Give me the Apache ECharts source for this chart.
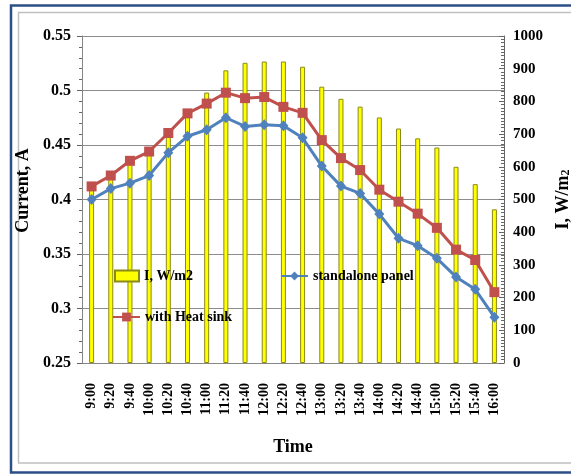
<!DOCTYPE html>
<html>
<head>
<meta charset="utf-8">
<script src="https://cdn.jsdelivr.net/npm/echarts@6/dist/echarts.min.js"></script>
<style>html,body{margin:0;padding:0;background:#fff;}#c{width:571px;height:474px;}</style>
</head>
<body>
<div id="c"></div>
<script>
var categories = ['9:00','9:20','9:40','10:00','10:20','10:40','11:00','11:20','11:40','12:00','12:20','12:40','13:00','13:20','13:40','14:00','14:20','14:40','15:00','15:20','15:40','16:00'];
var irradiance = [530, 565, 610, 640, 695, 760, 827, 895, 918, 922, 922, 906, 845, 808, 784, 751, 717, 687, 659, 600, 547, 470];
var standalone = [0.400, 0.410, 0.415, 0.422, 0.443, 0.458, 0.464, 0.475, 0.467, 0.4685, 0.4676, 0.4566, 0.4307, 0.4123, 0.4056, 0.3866, 0.3644, 0.3576, 0.346, 0.329, 0.3176, 0.292];
var heatSink = [0.412, 0.422, 0.4355, 0.444, 0.461, 0.479, 0.488, 0.498, 0.493, 0.494, 0.485, 0.4795, 0.4545, 0.438, 0.427, 0.409, 0.398, 0.387, 0.374, 0.354, 0.3445, 0.315];
var leftTicks = {min: 0.25, max: 0.55, interval: 0.05};
var rightTicks = {min: 0, max: 1000, interval: 100};

var FONT = "'Liberation Serif', 'Times New Roman', serif";
var chart = echarts.init(document.getElementById('c'), null, {renderer: 'canvas'});
chart.setOption({
  animation: false,
  backgroundColor: '#fff',
  graphic: [
    {type: 'rect', shape: {x: 18.5, y: 12.5, width: 560, height: 450.5}, style: {fill: 'none', stroke: '#C0C0C0', lineWidth: 1.5}, z: 0},
    {type: 'rect', shape: {x: 11, y: 5.5, width: 580, height: 467}, style: {fill: 'none', stroke: '#2B4F86', lineWidth: 2.5}, z: 0}
  ],
  grid: {left: 82, right: 67, top: 36, bottom: 111, containLabel: false, outerBoundsMode: 'none'},
  legend: [
    {data: [{name: 'I, W/m2', icon: 'rect'}], left: 114, top: 269, padding: 0, itemWidth: 24, itemHeight: 11, textStyle: {fontFamily: FONT, fontWeight: 'bold', fontSize: 14, color: '#000'}},
    {data: ['standalone panel'], left: 280, top: 269, padding: 0, itemWidth: 27, itemHeight: 11, textStyle: {fontFamily: FONT, fontWeight: 'bold', fontSize: 14, color: '#000'}},
    {data: ['with Heat sink'], left: 112, top: 310, padding: 0, itemWidth: 27, itemHeight: 11, textStyle: {fontFamily: FONT, fontWeight: 'bold', fontSize: 14, color: '#000'}}
  ],
  xAxis: {
    type: 'category',
    data: categories,
    boundaryGap: true,
    axisLine: {lineStyle: {color: '#868686', width: 1}},
    axisTick: {show: false},
    axisLabel: {rotate: 90, interval: 0, margin: 20, fontFamily: FONT, fontWeight: 'bold', fontSize: 14, color: '#000'},
    name: 'Time',
    nameLocation: 'middle',
    nameGap: 75,
    nameTextStyle: {fontFamily: FONT, fontWeight: 'bold', fontSize: 18, color: '#000'}
  },
  yAxis: [
    {
      type: 'value',
      min: leftTicks.min, max: leftTicks.max, interval: leftTicks.interval,
      axisLine: {show: true, lineStyle: {color: '#868686'}},
      axisTick: {show: true, length: 5, lineStyle: {color: '#666'}},
      minorTick: {show: true, splitNumber: 5, length: 3, lineStyle: {color: '#666'}},
      splitLine: {show: true, lineStyle: {color: '#8C8C8C', width: 1}},
      axisLabel: {margin: 11, fontFamily: FONT, fontWeight: 'bold', fontSize: 16, color: '#000',
        formatter: function (v) { return String(Math.round(v * 100) / 100); }},
      name: 'Current, A',
      nameLocation: 'middle',
      nameGap: 43,
      nameRotate: 90,
      nameTextStyle: {fontFamily: FONT, fontWeight: 'bold', fontSize: 18, color: '#000', padding: [0, 0, 0, 18]}
    },
    {
      type: 'value',
      position: 'right',
      min: rightTicks.min, max: rightTicks.max, interval: rightTicks.interval,
      axisLine: {show: true, lineStyle: {color: '#666'}},
      axisTick: {show: true, inside: true, length: 5, lineStyle: {color: '#666'}},
      minorTick: {show: true, splitNumber: 10, length: 3, lineStyle: {color: '#666'}},
      splitLine: {show: false},
      axisLabel: {margin: 9, fontFamily: FONT, fontWeight: 'bold', fontSize: 15, color: '#000',
        formatter: function (v) { return String(v); }},
      name: 'I, W/m{s|2}',
      nameLocation: 'middle',
      nameGap: 48,
      nameRotate: 90,
      nameTextStyle: {fontFamily: FONT, fontWeight: 'bold', fontSize: 18, color: '#000',
        rich: {s: {fontFamily: FONT, fontWeight: 'bold', fontSize: 12, color: '#000', verticalAlign: 'bottom', padding: [6, 0, 0, 0]}}}
    }
  ],
  series: [
    {
      name: 'I, W/m2',
      type: 'bar',
      yAxisIndex: 1,
      data: irradiance,
      barWidth: 5,
      itemStyle: {color: '#FFFF00', borderColor: '#8A8A1A', borderWidth: 1},
      z: 1
    },
    {
      name: 'standalone panel',
      type: 'line',
      yAxisIndex: 0,
      data: standalone,
      symbol: 'diamond',
      symbolSize: [10, 11],
      lineStyle: {color: '#4F81BD', width: 3},
      itemStyle: {color: '#4F81BD'},
      z: 3
    },
    {
      name: 'with Heat sink',
      type: 'line',
      yAxisIndex: 0,
      data: heatSink,
      symbol: 'rect',
      symbolSize: 10,
      lineStyle: {color: '#C0504D', width: 3},
      itemStyle: {color: '#C0504D'},
      z: 4
    }
  ]
});
</script>
</body>
</html>
